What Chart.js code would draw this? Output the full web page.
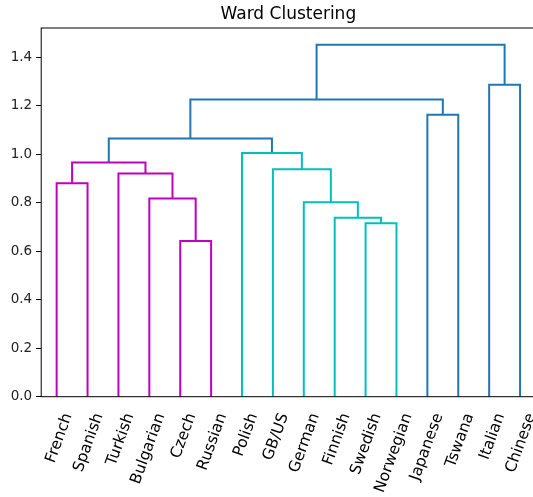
<!DOCTYPE html>
<html>
<head>
<meta charset="utf-8">
<script src="https://cdn.jsdelivr.net/npm/chart.js@4.4.1/dist/chart.umd.min.js"></script>
<style>
  html, body { margin: 0; padding: 0; background: #fff; overflow: hidden; }
  #wrap { width: 540px; height: 497px; }
</style>
</head>
<body>
<div id="wrap"><canvas id="chart"></canvas></div>
<script>
// leaves in the order the dendrogram shows them
const leaves = ['French', 'Spanish', 'Turkish', 'Bulgarian', 'Czech', 'Russian', 'Polish', 'GB/US',
                'German', 'Finnish', 'Swedish', 'Norwegian', 'Japanese', 'Tswana', 'Italian', 'Chinese'];

// linkage rows, scipy style: ids < 16 are leaves, id 16 + k is the k-th merge
const mergeLeft   = [4, 10, 9, 8, 3, 0, 2, 7, 21, 6, 24, 12, 26, 14, 28];
const mergeRight  = [5, 11, 17, 18, 16, 1, 20, 19, 22, 23, 25, 13, 27, 15, 29];
const mergeHeight = [0.642, 0.715, 0.738, 0.802, 0.817, 0.880, 0.920, 0.938, 0.965, 1.005, 1.064, 1.162, 1.225, 1.286, 1.451];

const yTicks = [0, 0.2, 0.4, 0.6, 0.8, 1.0, 1.2, 1.4];
const colorThreshold = 1.05;
const palette = ['#bf00bf', '#00bfbf'];
const aboveColor = '#1f77b4';

// x / height of every node, like scipy's dendrogram does it
const n = leaves.length;
const pos = leaves.map((_, i) => 5 + 10 * i);
const hgt = leaves.map(() => 0);
const parent = [];
mergeHeight.forEach((h, k) => {
  const l = mergeLeft[k], r = mergeRight[k];
  pos[n + k] = (pos[l] + pos[r]) / 2;
  hgt[n + k] = h;
  parent[l] = n + k;
  parent[r] = n + k;
});

// clusters below the threshold get palette colours, left to right
const roots = [];
mergeHeight.forEach((h, k) => {
  const p = parent[n + k];
  if (h < colorThreshold && (p === undefined || hgt[p] >= colorThreshold)) roots.push(n + k);
});
roots.sort((a, b) => pos[a] - pos[b]);

function linkColor(k) {
  let id = n + k;
  if (hgt[id] >= colorThreshold) return aboveColor;
  while (roots.indexOf(id) < 0) id = parent[id];
  return palette[roots.indexOf(id) % palette.length];
}

const datasets = mergeHeight.map((h, k) => {
  const l = mergeLeft[k], r = mergeRight[k];
  return {
    data: [{x: pos[l], y: hgt[l]}, {x: pos[l], y: h}, {x: pos[r], y: h}, {x: pos[r], y: hgt[r]}],
    borderColor: linkColor(k),
    borderWidth: 2,
    showLine: true,
    pointRadius: 0,
    tension: 0
  };
});

const frame = {
  id: 'frame',
  afterDraw(chart) {
    const {ctx, chartArea: a} = chart;
    ctx.save();
    ctx.strokeStyle = '#000';
    ctx.lineWidth = 1;
    ctx.strokeRect(a.left, a.top, a.right - a.left, a.bottom - a.top);
    ctx.restore();
  }
};

Chart.defaults.font.family = '"DejaVu Sans", sans-serif';

new Chart(document.getElementById('chart'), {
  type: 'scatter',
  data: { datasets },
  plugins: [frame],
  options: {
    responsive: true,
    maintainAspectRatio: false,
    animation: false,
    events: [],
    layout: { padding: { left: 0, right: 4.5, top: 0, bottom: 0 } },
    plugins: {
      legend: { display: false },
      tooltip: { enabled: false },
      title: {
        display: true,
        text: 'Ward Clustering',
        fullSize: false,
        color: '#000',
        font: { size: 17, weight: 'normal' },
        padding: { top: 4, bottom: 3.6 }
      }
    },
    scales: {
      x: {
        type: 'linear',
        min: 0,
        max: 160,
        afterBuildTicks: s => { s.ticks = leaves.map((_, i) => ({value: pos[i]})); },
        afterFit: s => { s.height = 100.3; s.paddingLeft = 0; s.paddingRight = 0; },
        grid: { display: false },
        border: { display: false },
        ticks: {
          autoSkip: false,
          minRotation: 70,
          maxRotation: 70,
          padding: 6,
          labelOffset: 11.5,
          color: '#000',
          font: { size: 15.5 },
          callback: v => leaves[Math.round((v - 5) / 10)]
        }
      },
      y: {
        min: 0,
        max: 1.52,
        afterBuildTicks: s => { s.ticks = yTicks.map(v => ({value: v})); },
        afterFit: s => { s.width = 41.2; s.paddingTop = 0; s.paddingBottom = 0; },
        grid: { drawOnChartArea: false, tickLength: 5, color: '#000', tickColor: '#000' },
        border: { display: false },
        ticks: {
          padding: 4,
          color: '#222',
          font: { size: 13.5 },
          callback: v => v.toFixed(1)
        }
      }
    }
  }
});
</script>
</body>
</html>
